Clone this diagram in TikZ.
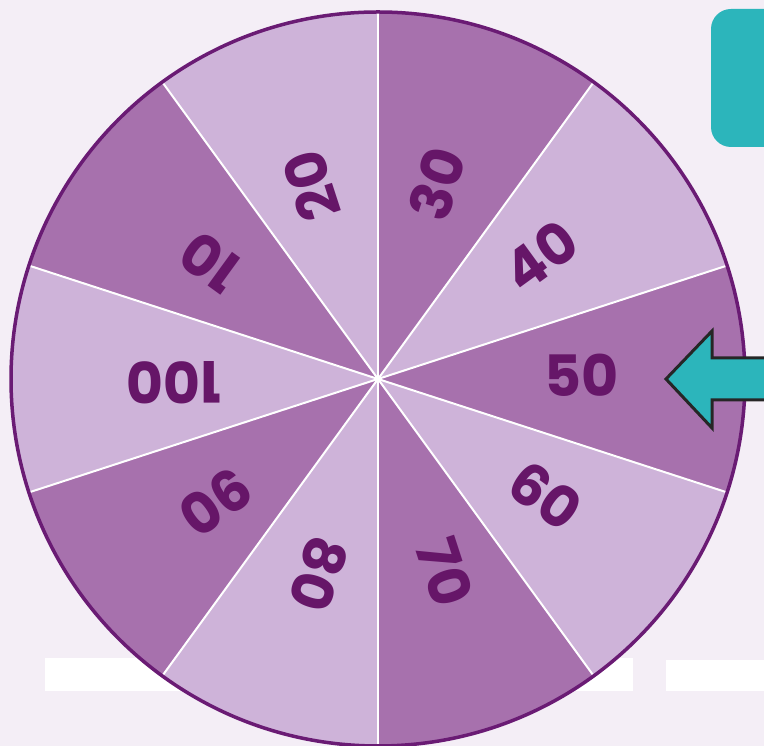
\documentclass[tikz,border=0pt]{standalone}
\usepackage{fontspec}
\usetikzlibrary{calc}
\newfontfamily\wheelfont{Poppins}[UprightFont=* Bold]
\definecolor{bgc}{HTML}{F4EEF6}
\definecolor{darkseg}{HTML}{A771AD}
\definecolor{lightseg}{HTML}{CEB3D9}
\definecolor{rimc}{HTML}{6A1B74}
\definecolor{numc}{HTML}{661668}
\definecolor{tealc}{HTML}{2CB5BB}
\tikzset{
  numlabel/.style={text=numc,font=\wheelfont\fontsize{57}{57}\selectfont,inner sep=0pt},
  sepline/.style={white,line width=2pt},
  barbox/.style={fill=white,draw=none},
}
\begin{document}
\begin{tikzpicture}[x=1pt,y=1pt]
\useasboundingbox (0,0) rectangle (764,746);
\fill[bgc] (0,0) rectangle (764,746);
% white bars
\fill[barbox] (45,55) rectangle (633,88);
\fill[barbox] (666,55) rectangle (764,86);
% teal box
\fill[tealc,rounded corners=20pt] (711,599) rectangle (800,737);
% wheel
\coordinate (c) at (378,367);
\foreach \i in {0,...,9}{
  \pgfmathsetmacro{\a}{90-36*\i}
  \pgfmathsetmacro{\b}{54-36*\i}
  \ifodd\i
    \fill[lightseg] (c) -- ++(\a:367) arc[start angle=\a,end angle=\b,radius=367] -- cycle;
  \else
    \fill[darkseg] (c) -- ++(\a:367) arc[start angle=\a,end angle=\b,radius=367] -- cycle;
  \fi
}
\foreach \i in {0,...,9}{
  \draw[sepline] (c) -- ++(90-36*\i:366);
}
\draw[rimc,line width=3.5pt] (c) circle[radius=367];
% labels
\foreach \v/\ang in {30/72,40/36,50/0,60/-36,70/-72,80/-108,90/-144,100/180,10/144,20/108}{
  \node[numlabel,rotate=\ang,yshift=4pt] (n\v) at ($(c)+(\ang:204)$) {\v};
}
% arrow
\draw[fill=tealc,draw=black!85,line width=3pt,line join=miter]
  (666,367) -- (712,415) -- (712,388) -- (800,388) -- (800,346) -- (712,346) -- (712,318) -- cycle;
\end{tikzpicture}
\end{document}
